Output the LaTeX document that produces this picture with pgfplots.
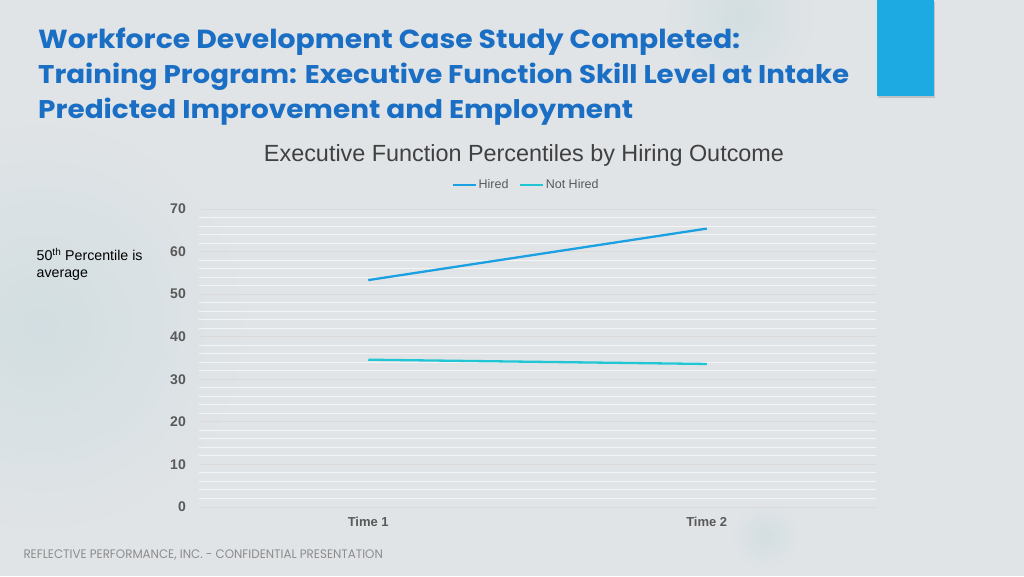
\documentclass[border=0pt]{standalone}
\usepackage{fontspec}
\setmainfont{Liberation Sans}
\newfontfamily\titlefont{Poppins}
\usepackage{pgfplots}
\pgfplotsset{compat=1.18}
\usetikzlibrary{shadows}
\definecolor{bgcol}{HTML}{E1E4E7}
\definecolor{bgtint}{HTML}{D2DEE1}
\definecolor{titleblue}{HTML}{1A6FC4}
\definecolor{boxblue}{HTML}{1DA9E1}
\definecolor{hired}{HTML}{1BA1E2}
\definecolor{nothired}{HTML}{21C6D5}
\definecolor{ticktext}{HTML}{595959}
\definecolor{charttitle}{HTML}{404040}
\definecolor{majgrid}{HTML}{DCDAD9}
\definecolor{mingrid}{HTML}{F3F4F5}
\definecolor{footer}{HTML}{8C8C8C}
\begin{document}
\begin{tikzpicture}
\useasboundingbox (0,0) rectangle (1024pt,576pt);
\fill[bgcol] (0,0) rectangle (1024pt,576pt);
\begin{scope}
\clip (0,0) rectangle (1024pt,576pt);
\shade[inner color=bgtint, outer color=bgcol] (40pt,250pt) circle (220pt);
\shade[inner color=bgtint, outer color=bgcol] (740pt,560pt) circle (80pt);
\shade[inner color=bgtint, outer color=bgcol] (765pt,40pt) circle (35pt);
\end{scope}
% blue box top right
\fill[boxblue, drop shadow={shadow xshift=1pt, shadow yshift=-2pt, opacity=0.35}] (876.7pt,480pt) rectangle (934pt,576pt);
% title
\node[anchor=base west, inner sep=0pt, text=titleblue] at (38pt,527.7pt)
  {\resizebox{702pt}{20.5pt}{\titlefont\bfseries Workforce Development Case Study Completed:}};
\node[anchor=base west, inner sep=0pt, text=titleblue] at (38pt,492.5pt)
  {\resizebox{811pt}{20.5pt}{\titlefont\bfseries Training Program: Executive Function Skill Level at Intake}};
\node[anchor=base west, inner sep=0pt, text=titleblue] at (38pt,457pt)
  {\resizebox{595pt}{20.5pt}{\titlefont\bfseries Predicted Improvement and Employment}};
% chart title
\node[anchor=base, inner sep=0pt, text=charttitle] at (524pt,414.3pt)
  {\resizebox{520pt}{!}{Executive Function Percentiles by Hiring Outcome}};
% side note
\node[anchor=base west, inner sep=0pt, font=\fontsize{14.2}{16}\selectfont] at (36.5pt,315.3pt)
  {50\textsuperscript{th} Percentile is};
\node[anchor=base west, inner sep=0pt, font=\fontsize{14.2}{16}\selectfont] at (36.5pt,298pt)
  {average};
% footer
\node[anchor=base west, inner sep=0pt, text=footer] at (23.3pt,18pt)
  {\resizebox{359.4pt}{8.7pt}{\titlefont REFLECTIVE PERFORMANCE, INC. - CONFIDENTIAL PRESENTATION}};
\begin{axis}[
  at={(199pt,69pt)}, anchor=south west,
  scale only axis,
  width=677pt, height=298pt,
  xmin=0.5, xmax=2.5, ymin=0, ymax=70,
  xtick={1,2}, xticklabels={Time 1,Time 2},
  ytick={0,10,...,70},
  minor ytick={2,4,6,8,12,14,16,18,22,24,26,28,32,34,36,38,42,44,46,48,52,54,56,58,62,64,66,68},
  ymajorgrids, yminorgrids,
  major grid style={majgrid, line width=1pt},
  minor grid style={mingrid, line width=1pt},
  axis line style={draw=none},
  tick style={draw=none},
  /pgf/number format/assume math mode=true,
  yticklabel style={font=\fontsize{14}{16}\selectfont\bfseries, text=ticktext, inner sep=0pt, anchor=east, xshift=-13pt},
  xticklabel style={font=\fontsize{13}{15}\selectfont\bfseries, text=ticktext, inner sep=0pt, anchor=north, yshift=-10pt},
  legend columns=2,
  legend style={draw=none, fill=none, at={(0.483,1.0805)}, anchor=center,
    font=\fontsize{12.5}{14}\selectfont, text=ticktext,
    nodes={inner sep=1.5pt},
    /tikz/every even column/.append style={column sep=9pt}},
  legend image code/.code={\draw[#1] (0pt,0pt) -- (23pt,0pt);},
]
\addplot[hired, line width=2.3pt] coordinates {(1,53.3) (2,65.4)};
\addlegendentry{Hired}
\addplot[nothired, line width=2.3pt] coordinates {(1,34.6) (2,33.6)};
\addlegendentry{Not Hired}
\end{axis}
\end{tikzpicture}
\end{document}
